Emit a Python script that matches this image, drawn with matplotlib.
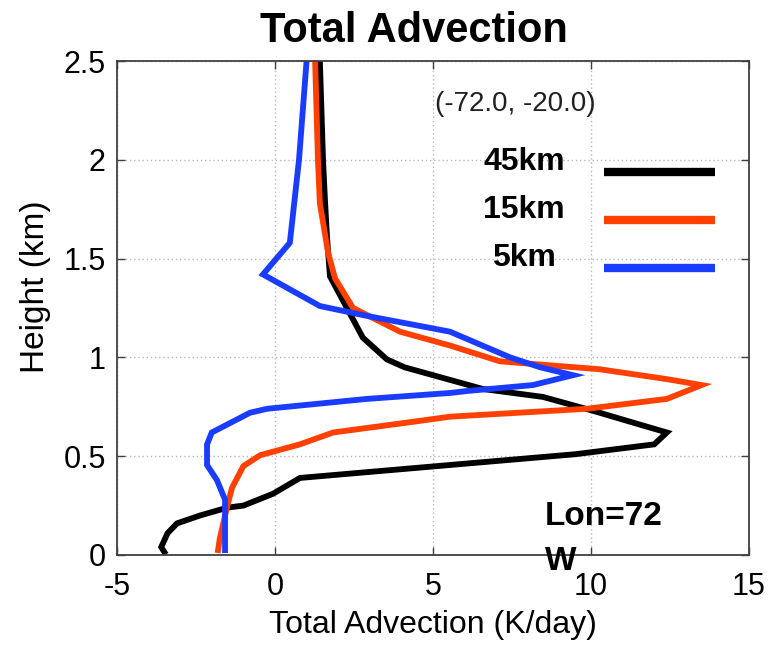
"""Vertical profile of total advection at (-72.0, -20.0) for three grid spacings."""
import matplotlib

matplotlib.use("Agg")
import matplotlib.pyplot as plt

plt.rcParams["font.family"] = ["Liberation Sans", "DejaVu Sans"]
plt.rcParams["axes.unicode_minus"] = False

# Profiles: total advection (K/day) vs height (km), bottom to top
ADV_45 = [-3.5, -3.6, -3.4, -3.1, -2.37, -1.5, -1.0, -0.06, 0.79, 5.5, 9.5, 12.0, 12.4,
          11.33, 10.06, 8.48, 6.58, 5.0, 4.1, 3.54, 2.78, 2.31, 1.74, 1.65, 1.58, 1.52,
          1.47, 1.42]
HGT_45 = [0.015, 0.04, 0.11, 0.16, 0.20, 0.24, 0.25, 0.31, 0.39, 0.455, 0.51, 0.56, 0.62,
          0.67, 0.73, 0.80, 0.84, 0.91, 0.95, 0.99, 1.10, 1.24, 1.41, 1.60, 1.80, 2.00,
          2.25, 2.50]

ADV_15 = [-1.8, -1.75, -1.68, -1.52, -1.36, -1.0, -0.47, 0.79, 1.84, 4.18, 5.54, 9.87,
          12.4, 13.5, 12.4, 10.28, 7.12, 5.54, 3.96, 2.47, 1.9, 1.68, 1.42, 1.36, 1.27]
HGT_15 = [0.025, 0.08, 0.13, 0.24, 0.34, 0.45, 0.505, 0.56, 0.62, 0.67, 0.70, 0.74,
          0.79, 0.86, 0.89, 0.94, 0.98, 1.06, 1.13, 1.25, 1.40, 1.53, 1.78, 2.00, 2.50]

ADV_5 = [-1.58, -1.58, -1.58, -1.84, -2.15, -2.15, -2.0, -0.79, -0.25, 2.91, 5.54, 6.08,
         8.16, 9.43, 8.39, 7.44, 5.54, 2.91, 1.42, -0.38, 0.47, 0.76, 1.0]
HGT_5 = [0.025, 0.14, 0.28, 0.38, 0.455, 0.56, 0.62, 0.72, 0.74, 0.79, 0.82, 0.83,
         0.86, 0.91, 0.95, 1.00, 1.13, 1.21, 1.26, 1.42, 1.58, 2.00, 2.50]

LABELS = ["45km", "15km", "5km"]
COLORS = ["#000000", "#ff4000", "#1a3cff"]

fig = plt.figure(figsize=(7.68, 6.47), dpi=100)
ax = fig.add_axes([0.1523, 0.1422, 0.8230, 0.7635])

for adv, hgt, c in zip([ADV_45, ADV_15, ADV_5], [HGT_45, HGT_15, HGT_5], COLORS):
    ax.plot(adv, hgt, color=c, lw=4.2, solid_joinstyle="miter")

ax.set_xlim(-5, 15)
ax.set_ylim(0, 2.5)
ax.set_xticks([-5, 0, 5, 10, 15])
ax.set_yticks([0, 0.5, 1, 1.5, 2, 2.5])
ax.set_yticklabels(["0", "0.5", "1", "1.5", "2", "2.5"])
ax.grid(True, ls=(0, (1, 2)), color="#b8b8b8", lw=1.0)
ax.tick_params(direction="in", length=6, width=1, top=True, right=True,
               labelsize=22, color="#404040")
ax.tick_params(axis="x", pad=12)
ax.tick_params(axis="y", pad=8)
for sp in ax.spines.values():
    sp.set_color("#404040")
    sp.set_linewidth(1.3)

ax.set_xlabel("Total Advection (K/day)", fontsize=23, labelpad=6)
ax.set_ylabel("Height (km)", fontsize=24)
ax.yaxis.set_label_coords(-0.105, 0.543)
fig.text(0.539, 0.952, "Total Advection", fontsize=30, fontweight="bold",
         ha="center", va="center")

ax.text(0.631, 0.912, "(-72.0, -20.0)", transform=ax.transAxes,
        fontsize=20, ha="center", va="center", color="#202020")

# hand-placed key: centred labels with thick sample lines to the right
key_txt_y = [0.796, 0.698, 0.601]
key_line_y = [0.775, 0.678, 0.581]
for lab, c, ty, ly in zip(LABELS, COLORS, key_txt_y, key_line_y):
    ax.text(0.644, ty, lab, transform=ax.transAxes, fontsize=23,
            fontweight="bold", ha="center", va="center")
    ax.plot([0.771, 0.946], [ly, ly], transform=ax.transAxes,
            color=c, lw=6, solid_capstyle="butt")

ax.text(0.677, 0.061, "Lon=72", transform=ax.transAxes, fontsize=24,
        fontweight="bold", ha="left", va="baseline")
ax.text(0.677, -0.03, "W", transform=ax.transAxes, fontsize=24,
        fontweight="bold", ha="left", va="baseline")

fig.savefig("out.png", dpi=100)
